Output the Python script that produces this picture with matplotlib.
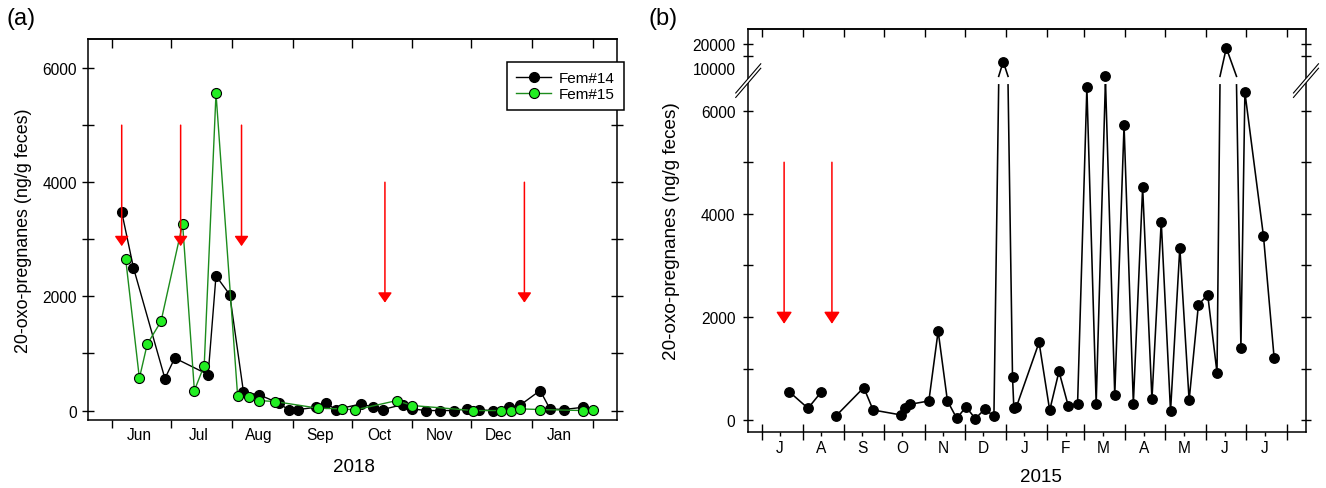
import numpy as np
import matplotlib
matplotlib.use("Agg")
import matplotlib.pyplot as plt
import matplotlib.dates as mdates
from matplotlib.patches import Polygon
from matplotlib.lines import Line2D

plt.rcParams['font.family'] = ['Liberation Sans', 'DejaVu Sans']

# ---------------- Panel (a) data ----------------
fem14_dates = ['2018-06-06', '2018-06-12', '2018-06-28', '2018-07-03', '2018-07-20',
               '2018-07-24', '2018-07-31', '2018-08-07', '2018-08-15', '2018-08-25',
               '2018-08-30', '2018-09-04', '2018-09-13', '2018-09-18', '2018-09-23',
               '2018-10-06', '2018-10-12', '2018-10-17', '2018-10-27', '2018-11-01',
               '2018-11-08', '2018-11-15', '2018-11-22', '2018-11-29', '2018-12-05',
               '2018-12-12', '2018-12-20', '2018-12-26', '2019-01-05', '2019-01-10',
               '2019-01-17', '2019-01-27']
fem14_values = [3480, 2500, 560, 920, 630, 2360, 2030, 322, 275, 130,
                12, 18, 58, 130, 18, 117, 58, 18, 105, 29,
                0, 0, 0, 29, 12, 0, 58, 99, 351, 29, 18, 58]

fem15_dates = ['2018-06-08', '2018-06-15', '2018-06-19', '2018-06-26', '2018-07-07',
               '2018-07-13', '2018-07-18', '2018-07-24', '2018-08-04', '2018-08-10',
               '2018-08-15', '2018-08-23', '2018-09-14', '2018-09-26', '2018-10-03',
               '2018-10-24', '2018-11-01', '2018-12-02', '2018-12-16', '2018-12-21',
               '2018-12-26', '2019-01-05', '2019-01-27', '2019-02-01']
fem15_values = [2660, 567, 1164, 1561, 3269, 351, 789, 5556, 263, 234,
                175, 158, 41, 29, 12, 175, 88, 0, 0, 0, 29, 18, 0, 12]

a_arrow_dates = ['2018-06-06', '2018-07-06', '2018-08-06', '2018-10-18', '2018-12-28']
a_arrow_tops = [5000, 5000, 5000, 4000, 4000]
a_arrow_tips = [2880, 2880, 2880, 1890, 1890]

a_months = ['2018-06', '2018-07', '2018-08', '2018-09', '2018-10', '2018-11', '2018-12', '2019-01']
a_month_labels = ['Jun', 'Jul', 'Aug', 'Sep', 'Oct', 'Nov', 'Dec', 'Jan']
a_yticks = [0, 2000, 4000, 6000]
a_yminor = [1000, 3000, 5000]

# ---------------- Panel (b) data ----------------
b_dates = ['2014-07-22', '2014-08-05', '2014-08-15', '2014-08-20', '2014-08-26',
           '2014-09-16', '2014-09-23', '2014-10-14', '2014-10-17', '2014-10-21',
           '2014-11-04', '2014-11-11', '2014-11-18', '2014-11-25', '2014-12-02',
           '2014-12-09', '2014-12-16', '2014-12-23', '2014-12-30', '2015-01-06',
           '2015-01-07', '2015-01-09', '2015-01-26', '2015-02-03', '2015-02-10',
           '2015-02-17', '2015-02-24', '2015-03-03', '2015-03-10', '2015-03-17',
           '2015-03-24', '2015-03-31', '2015-04-07', '2015-04-14', '2015-04-21',
           '2015-04-28', '2015-05-05', '2015-05-12', '2015-05-19', '2015-05-26',
           '2015-06-02', '2015-06-09', '2015-06-16', '2015-06-27', '2015-06-30',
           '2015-07-14', '2015-07-22']
b_values = [550, 233, 550, np.nan, 84,
            634, 200, 104, 246, 311,
            375, 1728, 375, 39, 259,
            32, 214, 84, 12625, 841,
            246, 265, 1510, 194, 948,
            277, 323, 6450, 323, 6600,
            484, 5715, 323, 4516, 406,
            3852, 174, 3348, 387, 2239,
            2432, 923, 18330, 1406, 6357,
            3568, 1213]

b_arrow_dates = ['2014-07-18', '2014-08-23']
b_arrow_tops = [5000, 5000]
b_arrow_tips = [1870, 1870]

b_months = ['2014-07', '2014-08', '2014-09', '2014-10', '2014-11', '2014-12', '2015-01',
            '2015-02', '2015-03', '2015-04', '2015-05', '2015-06', '2015-07']
b_month_labels = ['J', 'A', 'S', 'O', 'N', 'D', 'J', 'F', 'M', 'A', 'M', 'J', 'J']
b_yticks = [0, 2000, 4000, 6000, 10000, 20000]
b_yminor = [1000, 3000, 5000, 15000]

# ---------------- helpers ----------------
def d2n(lst):
    return mdates.date2num(np.array(lst, dtype='datetime64[D]'))

def month_positions(months):
    m = np.array(months, dtype='datetime64[M]')
    starts = np.append(m, m[-1] + 1).astype('datetime64[D]')
    mids = m.astype('datetime64[D]') + 14
    return mdates.date2num(starts), mdates.date2num(mids)

GREEN_FACE = '#22ee22'
GREEN_LINE = '#1c8c1c'
RED = '#ff0000'
TICK_FS = 11.2

fig = plt.figure(figsize=(13.26, 4.89), dpi=100)

# ================= Panel (a) =================
axa = fig.add_axes([0.0666, 0.1397, 0.3985, 0.7785])
x14 = d2n(fem14_dates)
x15 = d2n(fem15_dates)
axa.plot(x14, fem14_values, '-o', color='black', lw=1.0, ms=7.2,
         mfc='black', mec='black', mew=0.8, label='Fem#14', zorder=3)
axa.plot(x15, fem15_values, '-o', color=GREEN_LINE, lw=1.0, ms=7.2,
         mfc=GREEN_FACE, mec='black', mew=0.8, label='Fem#15', zorder=4)

for d, top, tip in zip(d2n(a_arrow_dates), a_arrow_tops, a_arrow_tips):
    axa.annotate('', xy=(d, tip), xytext=(d, top),
                 arrowprops=dict(arrowstyle='-|>,head_length=6,head_width=4.2',
                                 color=RED, lw=1.1, shrinkA=0, shrinkB=0,
                                 mutation_scale=1), zorder=5)

a_starts, a_mids = month_positions(a_months)
axa.set_xlim(mdates.date2num(np.datetime64('2018-05-20')),
             mdates.date2num(np.datetime64('2019-02-13')))
axa.set_ylim(-160, 6510)
axa.set_xticks(a_starts)
axa.set_xticklabels([])
axa.set_xticks(a_mids, labels=a_month_labels, minor=True)
axa.tick_params(axis='x', which='major', direction='out', length=6, width=1.0,
                bottom=True, top=False)
axa.tick_params(axis='x', which='minor', length=0, pad=5.5, labelsize=TICK_FS)
axa.set_yticks(a_yticks, labels=[str(v) for v in a_yticks])
axa.set_yticks(a_yminor, minor=True)
axa.tick_params(axis='y', which='both', direction='inout', length=8.4, width=1.0,
                left=True, right=True, labelsize=TICK_FS, pad=4.0)
seca = axa.secondary_xaxis('top')
seca.set_xticks(a_starts)
seca.xaxis.set_minor_locator(matplotlib.ticker.NullLocator())
seca.tick_params(axis='x', direction='in', length=6.5, width=1.0, labeltop=False)
for s in list(axa.spines.values()) + [seca.spines['top']]:
    s.set_linewidth(1.1)

axa.set_xlabel('2018', fontsize=13.5)
axa.xaxis.set_label_coords(0.503, -0.100)
axa.set_ylabel('20-oxo-pregnanes (ng/g feces)', fontsize=12.9)
axa.yaxis.set_label_coords(-0.1065, 0.5)

leg = axa.legend(loc='upper right', bbox_to_anchor=(1.0138, 0.9388), borderaxespad=0,
                 fontsize=11, frameon=True, fancybox=False, framealpha=1,
                 edgecolor='black', handlelength=2.3, handletextpad=0.5,
                 borderpad=0.6, labelspacing=0.1)
leg.get_frame().set_linewidth(1.1)
leg.set_zorder(10)

fig.text(7 / 1326, 1 - 8 / 489, '(a)', fontsize=17, ha='left', va='top')

# ================= Panel (b) =================
B = 6500.0     # axis break value
G = 165.0      # gap size (lower-scale units)
K = 0.0465     # upper-segment compression

def fwd(v):
    v = np.asarray(v, dtype=float)
    return np.where(v <= B, v, B + G + (v - B) * K)

def inv(p):
    p = np.asarray(p, dtype=float)
    return np.where(p <= B, p, B + (p - B - G) / K)

def break_path(x, y, b):
    xs, ys = [x[0]], [y[0]]
    for i in range(1, len(x)):
        x0, y0, x1, y1 = x[i - 1], y[i - 1], x[i], y[i]
        if np.isfinite(y0) and np.isfinite(y1) and ((y0 <= b) != (y1 <= b)):
            xc = x0 + (b - y0) * (x1 - x0) / (y1 - y0)
            xs += [xc, np.nan, xc]
            if y0 <= b:
                ys += [b, np.nan, b + 1e-6]
            else:
                ys += [b + 1e-6, np.nan, b]
        xs.append(x1)
        ys.append(y1)
    return np.array(xs), np.array(ys)

axb = fig.add_axes([0.5643, 0.1151, 0.4206, 0.8229])
axb.set_yscale('function', functions=(fwd, inv))
xb = d2n(b_dates)
yb = np.array(b_values, dtype=float)
lx, ly = break_path(xb, yb, B)
axb.plot(lx, ly, '-', color='black', lw=1.15, zorder=3)
axb.plot(xb, yb, 'o', color='black', ms=6.8, zorder=4)

for d, top, tip in zip(d2n(b_arrow_dates), b_arrow_tops, b_arrow_tips):
    axb.annotate('', xy=(d, tip), xytext=(d, top),
                 arrowprops=dict(arrowstyle='-|>,head_length=7.2,head_width=4.8',
                                 color=RED, lw=1.1, shrinkA=0, shrinkB=0,
                                 mutation_scale=1), zorder=5)

b_starts, b_mids = month_positions(b_months)
axb.set_xlim(mdates.date2num(np.datetime64('2014-06-21')),
             mdates.date2num(np.datetime64('2015-08-15')))
axb.set_ylim(-221, 26100)
axb.set_xticks(b_starts)
axb.set_xticklabels([])
axb.set_xticks(b_mids, labels=b_month_labels, minor=True)
axb.tick_params(axis='x', which='major', direction='inout', length=11, width=1.0,
                bottom=True, top=False)
axb.tick_params(axis='x', which='minor', direction='out', length=3, width=1.0,
                pad=3.0, labelsize=TICK_FS)
axb.set_yticks(b_yticks, labels=[str(v) for v in b_yticks])
axb.set_yticks(b_yminor, minor=True)
axb.tick_params(axis='y', which='both', direction='inout', length=7.5, width=1.0,
                left=True, right=True, labelsize=TICK_FS, pad=5.5)
for t in axb.yaxis.get_major_ticks():
    if abs(t.get_loc() - 10000) < 1:
        t.tick1line.set_visible(False)
        t.tick2line.set_visible(False)
secb = axb.secondary_xaxis('top')
secb.set_xticks(b_starts)
secb.xaxis.set_minor_locator(matplotlib.ticker.NullLocator())
secb.tick_params(axis='x', direction='in', length=6, width=1.0, labeltop=False)
for s in list(axb.spines.values()) + [secb.spines['top']]:
    s.set_linewidth(1.1)

axb.set_xlabel('2015', fontsize=13.5)
axb.xaxis.set_label_coords(0.525, -0.090)
axb.set_ylabel('20-oxo-pregnanes (ng/g feces)', fontsize=13.6)
axb.yaxis.set_label_coords(-0.1225, 0.5)

# axis-break symbols on left and right spines
lo, hi = fwd(-221), fwd(26100)
fy = float((B + G / 2 - lo) / (hi - lo))
dx, dy, sep = 9.0, 10.5, 1.6
fig.canvas.draw()
for fx in (0.0, 1.0):
    base = axb.transAxes.transform((fx, fy))
    verts_pts = np.array([(-dx, -dy - sep), (dx, dy - sep), (dx, dy + sep), (-dx, -dy + sep)])
    verts_fig = fig.transFigure.inverted().transform(base + verts_pts * fig.dpi / 72)
    fig.add_artist(Polygon(verts_fig, closed=True, facecolor='white', edgecolor='none',
                           transform=fig.transFigure, zorder=20))
    for sgn in (-1, 1):
        seg = base + np.array([(-dx, -dy + sgn * sep), (dx, dy + sgn * sep)]) * fig.dpi / 72
        segf = fig.transFigure.inverted().transform(seg)
        fig.add_artist(Line2D(segf[:, 0], segf[:, 1], color='black', lw=0.8,
                              transform=fig.transFigure, zorder=21))

fig.text(649 / 1326, 1 - 8 / 489, '(b)', fontsize=17, ha='left', va='top')

fig.savefig('out.png', dpi=100)
